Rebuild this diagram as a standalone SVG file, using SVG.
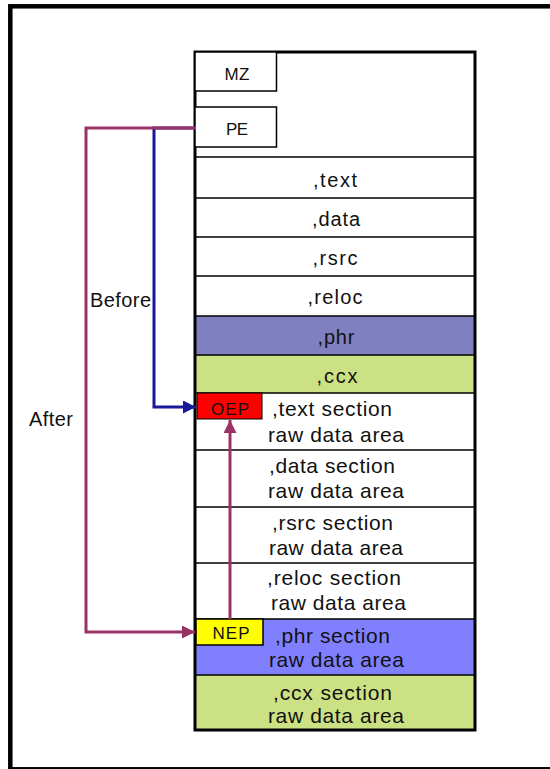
<svg xmlns="http://www.w3.org/2000/svg" width="550" height="769" viewBox="0 0 550 769">
<style>
.lbl{font-family:"Liberation Sans",Arial,sans-serif;font-size:20px;fill:#111;text-anchor:middle}
.sec{font-family:"Liberation Sans",Arial,sans-serif;font-size:21px;fill:#111}
.tag{font-family:"Liberation Sans",Arial,sans-serif;font-size:17px;fill:#111;text-anchor:middle}
.side{font-family:"Liberation Sans",Arial,sans-serif;font-size:20px;fill:#111}
.row{stroke:#000;stroke-width:1.5}
.box{fill:#fff;stroke:#000;stroke-width:1.5}
</style>
<defs>
<marker id="ab" viewBox="0 0 10 10" refX="10" refY="5" markerWidth="13" markerHeight="13" markerUnits="userSpaceOnUse" orient="auto"><path d="M0,0 L10,5 L0,10 z" fill="#1a1a99"/></marker>
<marker id="am" viewBox="0 0 10 10" refX="10" refY="5" markerWidth="13" markerHeight="13" markerUnits="userSpaceOnUse" orient="auto"><path d="M0,0 L10,5 L0,10 z" fill="#993366"/></marker>
</defs>
<rect x="0" y="0" width="550" height="769" fill="#fff"/>
<rect x="10.3" y="6.3" width="600" height="763" fill="none" stroke="#000" stroke-width="4.5"/>

<g id="pefile">
<rect x="195" y="52" width="280" height="678" fill="#fff"/>
<rect x="195" y="316" width="280" height="39" fill="#8080C0"/>
<rect x="195" y="355" width="280" height="38" fill="#CCE183"/>
<rect x="195" y="619" width="280" height="56" fill="#8080FF"/>
<rect x="195" y="675" width="280" height="55" fill="#CCE183"/>
<g class="row">
<line x1="195" y1="157" x2="475" y2="157"/>
<line x1="195" y1="198" x2="475" y2="198"/>
<line x1="195" y1="237" x2="475" y2="237"/>
<line x1="195" y1="276" x2="475" y2="276"/>
<line x1="195" y1="316" x2="475" y2="316"/>
<line x1="195" y1="355" x2="475" y2="355"/>
<line x1="195" y1="393" x2="475" y2="393"/>
<line x1="195" y1="450" x2="475" y2="450"/>
<line x1="195" y1="507" x2="475" y2="507"/>
<line x1="195" y1="563" x2="475" y2="563"/>
<line x1="195" y1="619" x2="475" y2="619"/>
<line x1="195" y1="675" x2="475" y2="675"/>
</g>
<rect x="195" y="52" width="280" height="678" fill="none" stroke="#000" stroke-width="3"/>
</g>

<g id="mz"><rect class="box" x="195" y="52" width="81.5" height="39"/><text class="tag" x="237" y="80" textLength="25">MZ</text></g>
<g id="pe"><rect class="box" x="195" y="107" width="81.5" height="40"/><text class="tag" x="237" y="135" textLength="22">PE</text></g>

<g id="hdr-text"><text class="lbl" x="335" y="187" textLength="44">,text</text></g>
<g id="hdr-data"><text class="lbl" x="336" y="226" textLength="48">,data</text></g>
<g id="hdr-rsrc"><text class="lbl" x="335" y="265" textLength="45">,rsrc</text></g>
<g id="hdr-reloc"><text class="lbl" x="335" y="304" textLength="55">,reloc</text></g>
<g id="hdr-phr"><text class="lbl" x="336" y="344" textLength="37">,phr</text></g>
<g id="hdr-ccx"><text class="lbl" x="337" y="383" textLength="41">,ccx</text></g>

<g id="sec-text"><text class="sec" x="272" y="416" textLength="120">,text section</text><text class="sec" x="268" y="442" textLength="136">raw data area</text></g>
<g id="sec-data"><text class="sec" x="269" y="473" textLength="126">,data section</text><text class="sec" x="268" y="498" textLength="136">raw data area</text></g>
<g id="sec-rsrc"><text class="sec" x="272" y="530" textLength="121">,rsrc section</text><text class="sec" x="269" y="555" textLength="134">raw data area</text></g>
<g id="sec-reloc"><text class="sec" x="267" y="585" textLength="134">,reloc section</text><text class="sec" x="271" y="610" textLength="135">raw data area</text></g>
<g id="sec-phr"><text class="sec" x="275" y="643" textLength="115">,phr section</text><text class="sec" x="269" y="667" textLength="135">raw data area</text></g>
<g id="sec-ccx"><text class="sec" x="273" y="700" textLength="119">,ccx section</text><text class="sec" x="268" y="723" textLength="136">raw data area</text></g>

<g id="oep"><rect x="197" y="393" width="65" height="26" fill="#FF0000" stroke="#000" stroke-width="1"/><text class="tag" x="230" y="415" textLength="38">OEP</text></g>
<g id="nep"><rect x="196" y="619" width="67" height="26" fill="#FFFF00" stroke="#000" stroke-width="1.5"/><text class="tag" x="231" y="639" textLength="37">NEP</text></g>

<g id="before"><text class="side" x="90" y="307" textLength="61">Before</text></g>
<g id="after"><text class="side" x="29" y="426" textLength="44">After</text></g>

<g id="connectors" fill="none" stroke-width="3">
<path d="M196,128 H154 V407 H196" stroke="#1a1a99" marker-end="url(#ab)"/>
<path d="M196,128 H86 V632 H195" stroke="#993366" marker-end="url(#am)"/>
<path d="M230,619 V420" stroke="#993366" marker-end="url(#am)"/>
</g>
</svg>
